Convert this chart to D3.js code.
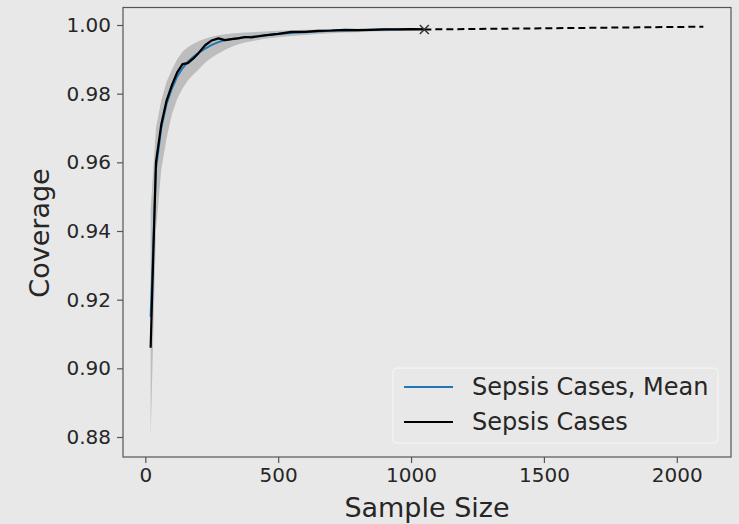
<!DOCTYPE html>
<html>
<head>
<meta charset="utf-8">
<script src="https://cdn.jsdelivr.net/npm/d3@7"></script>
<style>
  body { margin: 0; background: #e8e8e8; }
  svg { display: block; font-family: "DejaVu Sans", sans-serif; }
</style>
</head>
<body>
<div id="chart"></div>
<script>
'use strict';

// sample sizes and coverage values
var sizes     = [20, 40, 60, 80, 100, 120, 140, 160, 180, 200, 225, 250, 275, 300, 325, 350, 375, 400, 450, 500, 550, 600, 650, 700, 750, 800, 850, 900, 950, 1000, 1050];
var meanCov   = [0.915, 0.958, 0.970, 0.977, 0.9815, 0.985, 0.9874, 0.9893, 0.9907, 0.9919, 0.9931, 0.9942, 0.995, 0.9956, 0.9959, 0.9962, 0.9964, 0.9966, 0.997, 0.9974, 0.9977, 0.9979, 0.9981, 0.9983, 0.9984, 0.9985, 0.9986, 0.9987, 0.9987, 0.9988, 0.9988];
var lowerCov  = [0.880, 0.940, 0.958, 0.967, 0.974, 0.9785, 0.9815, 0.9838, 0.9855, 0.987, 0.989, 0.9905, 0.9917, 0.9928, 0.9937, 0.9944, 0.9949, 0.9953, 0.996, 0.9964, 0.9968, 0.9971, 0.9974, 0.9976, 0.9978, 0.9979, 0.9981, 0.9982, 0.9983, 0.9984, 0.9985];
var upperCov  = [0.946, 0.970, 0.978, 0.9835, 0.987, 0.990, 0.9922, 0.9935, 0.9945, 0.9953, 0.996, 0.9966, 0.997, 0.9973, 0.9975, 0.9977, 0.9978, 0.9979, 0.9981, 0.9983, 0.9985, 0.9986, 0.9987, 0.9988, 0.9988, 0.9989, 0.9989, 0.999, 0.999, 0.9991, 0.9991];
var sepsisCov = [0.906, 0.960, 0.971, 0.978, 0.9825, 0.9862, 0.9886, 0.9889, 0.9902, 0.9918, 0.9941, 0.9955, 0.9961, 0.9956, 0.9959, 0.9961, 0.9965, 0.9964, 0.997, 0.9974, 0.998, 0.998, 0.9983, 0.9984, 0.9986, 0.9985, 0.9986, 0.9987, 0.9987, 0.9988, 0.9987];
var extSizes  = [1050, 2100];
var extCov    = [0.9987, 0.9995];
var xTicks = [0, 500, 1000, 1500, 2000];
var yTicks = [0.88, 0.90, 0.92, 0.94, 0.96, 0.98, 1.00];
var legendLabels = ['Sepsis Cases, Mean', 'Sepsis Cases'];
var legendColors = ['#1f77b4', '#000000'];

var width = 739, height = 524;
var plot = {left: 123, right: 731, top: 7.5, bottom: 457};

var svg = d3.select('#chart').append('svg')
    .attr('width', width)
    .attr('height', height);

svg.append('rect')
    .attr('width', width)
    .attr('height', height)
    .attr('fill', '#e8e8e8');

var x = d3.scaleLinear()
  .domain([-84, 2204])
  .range([plot.left, plot.right]);

var y = d3.scaleLinear()
  .domain([0.88, 1.00])
  .range([437, 25]);

var rows = sizes.map(function(s, i) {
  return {x: s, mean: meanCov[i], lo: lowerCov[i], hi: upperCov[i], obs: sepsisCov[i]};
});

var g = svg.append('g');

// clip to plot area
svg.append('clipPath').attr('id', 'clip')
  .append('rect')
    .attr('x', plot.left).attr('y', plot.top)
    .attr('width', plot.right - plot.left).attr('height', plot.bottom - plot.top);

var marks = g.append('g').attr('clip-path', 'url(#clip)');

marks.append('path')
    .datum(rows)
    .attr('fill', '#808080')
    .attr('fill-opacity', 0.42)
    .attr('d', d3.area()
      .x(function(d) { return x(d.x); })
      .y0(function(d) { return y(d.lo); })
      .y1(function(d) { return y(d.hi); }));

marks.append('path')
    .datum(rows)
    .attr('fill', 'none')
    .attr('stroke', legendColors[0])
    .attr('stroke-width', 2)
    .attr('d', d3.line()
      .x(function(d) { return x(d.x); })
      .y(function(d) { return y(d.mean); }));

marks.append('path')
    .datum(rows)
    .attr('fill', 'none')
    .attr('stroke', legendColors[1])
    .attr('stroke-width', 2.2)
    .attr('stroke-linejoin', 'round')
    .attr('d', d3.line()
      .x(function(d) { return x(d.x); })
      .y(function(d) { return y(d.obs); }));

marks.append('path')
    .datum(extSizes.map(function(s, i) { return [s, extCov[i]]; }))
    .attr('fill', 'none')
    .attr('stroke', '#000')
    .attr('stroke-width', 2)
    .attr('stroke-dasharray', '7,4')
    .attr('d', d3.line()
      .x(function(d) { return x(d[0]); })
      .y(function(d) { return y(d[1]); }));

// end marker
var mx = x(extSizes[0]), my = y(extCov[0]);
marks.append('path')
    .attr('d', 'M' + (mx - 4.5) + ',' + (my - 4.5) + 'L' + (mx + 4.5) + ',' + (my + 4.5) +
               'M' + (mx - 4.5) + ',' + (my + 4.5) + 'L' + (mx + 4.5) + ',' + (my - 4.5))
    .attr('stroke', '#333')
    .attr('stroke-width', 1.5);

// axes
var xAxis = g.append('g')
    .attr('transform', 'translate(0,' + plot.bottom + ')')
    .call(d3.axisBottom(x).tickValues(xTicks).tickSize(6).tickPadding(5).tickFormat(d3.format('d')));

var yAxis = g.append('g')
    .attr('transform', 'translate(' + plot.left + ',0)')
    .call(d3.axisLeft(y).tickValues(yTicks).tickSize(6).tickPadding(6).tickFormat(d3.format('.2f')));

[xAxis, yAxis].forEach(function(ax) {
  ax.select('.domain').remove();
  ax.selectAll('line').attr('stroke', '#555').attr('stroke-width', 1.2);
  ax.selectAll('text')
    .attr('fill', '#262626')
    .style('font-size', '20px')
    .style('font-family', '"DejaVu Sans", sans-serif');
});

// frame
g.append('rect')
    .attr('x', plot.left).attr('y', plot.top)
    .attr('width', plot.right - plot.left).attr('height', plot.bottom - plot.top)
    .attr('fill', 'none')
    .attr('stroke', '#555')
    .attr('stroke-width', 1.2);

svg.append('text')
    .attr('x', 427).attr('y', 508)
    .attr('dy', '0.35em')
    .attr('text-anchor', 'middle')
    .attr('fill', '#262626')
    .style('font-size', '27px')
    .text('Sample Size');

svg.append('text')
    .attr('transform', 'translate(40,233) rotate(-90)')
    .attr('dy', '0.35em')
    .attr('text-anchor', 'middle')
    .attr('fill', '#262626')
    .style('font-size', '27px')
    .text('Coverage');

// legend
var legend = svg.append('g').attr('transform', 'translate(393,368)');
legend.append('rect')
    .attr('width', 325).attr('height', 75)
    .attr('rx', 4)
    .attr('fill', '#e8e8e8')
    .attr('stroke', '#f7f7f7')
    .attr('stroke-width', 1);

var item = legend.selectAll('.item')
    .data(legendLabels)
  .enter().append('g')
    .attr('class', 'item')
    .attr('transform', function(d, i) { return 'translate(0,' + (19 + i * 35) + ')'; });

item.append('line')
    .attr('x1', 11).attr('x2', 60)
    .attr('stroke', function(d, i) { return legendColors[i]; })
    .attr('stroke-width', 2);

item.append('text')
    .attr('x', 79)
    .attr('dy', '0.35em')
    .attr('fill', '#262626')
    .style('font-size', '24px')
    .text(function(d) { return d; });
</script>
</body>
</html>
